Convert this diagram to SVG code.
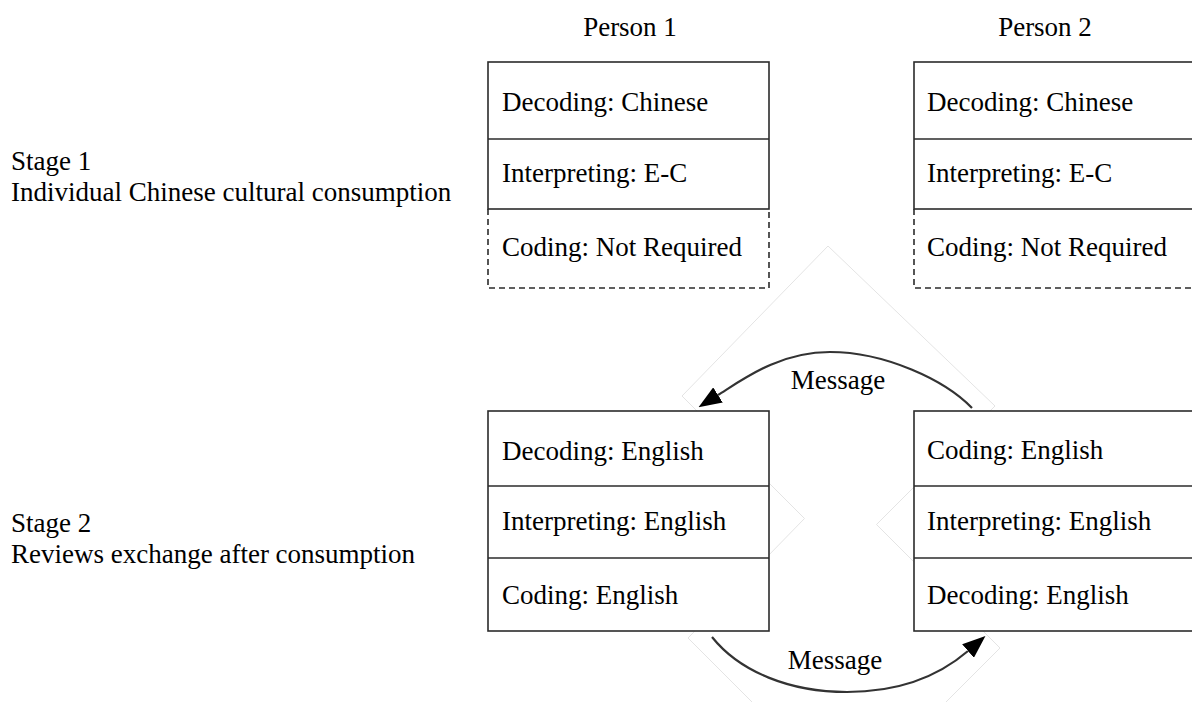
<svg xmlns="http://www.w3.org/2000/svg" width="1192" height="702" viewBox="0 0 1192 702">
  <style>
    text { font-family: "Liberation Serif", "Times New Roman", serif; font-size: 27px; fill: #000; }
    .cell { fill: #fff; stroke: #2b2b2b; stroke-width: 1.6; }
    .solid { fill: none; stroke: #2b2b2b; stroke-width: 1.6; }
    .dash { fill: none; stroke: #2b2b2b; stroke-width: 1.6; stroke-dasharray: 6 4; }
    .arc { fill: none; stroke: #333; stroke-width: 2.2; }
    .frame { fill: none; stroke: #e4e4e4; stroke-width: 1; }
    .mid { text-anchor: middle; }
  </style>
  <defs>
    <marker id="head" viewBox="0 0 23 18" refX="0" refY="9" markerWidth="23" markerHeight="18" markerUnits="userSpaceOnUse" orient="auto">
      <path d="M0,0 L23,9 L0,18 Z" fill="#000"/>
    </marker>
  </defs>

  <!-- faint outline of the arc frames -->
  <g id="arc-frames">
    <polyline class="frame" points="752,702 688,638 804.5,518.5 682,396 828,246 995,406 876.5,524.5 1000,648 946,702"/>
  </g>

  <!-- column and row headings -->
  <g id="headings">
    <text class="mid" x="630" y="36">Person 1</text>
    <text class="mid" x="1045" y="36">Person 2</text>
    <text x="11" y="170">Stage 1</text>
    <text x="11" y="201">Individual Chinese cultural consumption</text>
    <text x="11" y="532">Stage 2</text>
    <text x="11" y="563">Reviews exchange after consumption</text>
  </g>

  <!-- stage 1, person 1 -->
  <g id="p1-stage1">
    <rect class="cell" x="488" y="62" width="281" height="147"/>
    <line class="solid" x1="488" y1="139" x2="769" y2="139"/>
    <polyline class="dash" points="488,209 488,288 769,288 769,209"/>
    <text x="502" y="111">Decoding: Chinese</text>
    <text x="502" y="182">Interpreting: E-C</text>
    <text x="502" y="256">Coding: Not Required</text>
  </g>

  <!-- stage 1, person 2 -->
  <g id="p2-stage1">
    <rect class="cell" x="914" y="62" width="282" height="147"/>
    <line class="solid" x1="914" y1="139" x2="1196" y2="139"/>
    <polyline class="dash" points="914,209 914,288 1196,288"/>
    <text x="927" y="111">Decoding: Chinese</text>
    <text x="927" y="182">Interpreting: E-C</text>
    <text x="927" y="256">Coding: Not Required</text>
  </g>

  <!-- stage 2, person 1 -->
  <g id="p1-stage2">
    <rect class="cell" x="488" y="411" width="281" height="220"/>
    <line class="solid" x1="488" y1="486" x2="769" y2="486"/>
    <line class="solid" x1="488" y1="558" x2="769" y2="558"/>
    <text x="502" y="460">Decoding: English</text>
    <text x="502" y="530">Interpreting: English</text>
    <text x="502" y="604">Coding: English</text>
  </g>

  <!-- stage 2, person 2 -->
  <g id="p2-stage2">
    <rect class="cell" x="914" y="411" width="282" height="220"/>
    <line class="solid" x1="914" y1="486" x2="1196" y2="486"/>
    <line class="solid" x1="914" y1="558" x2="1196" y2="558"/>
    <text x="927" y="459">Coding: English</text>
    <text x="927" y="530">Interpreting: English</text>
    <text x="927" y="604">Decoding: English</text>
  </g>

  <!-- message exchange between the two people -->
  <g id="connectors">
    <path class="arc" d="M972,408 C945,380 885,352 830,352 C780,352 745,378 718,395" marker-end="url(#head)"/>
    <text class="mid" x="838" y="389">Message</text>
    <path class="arc" d="M712,637 C740,672 790,692 847,692 C900,692 940,675 968,651" marker-end="url(#head)"/>
    <text class="mid" x="835" y="669">Message</text>
  </g>
</svg>
